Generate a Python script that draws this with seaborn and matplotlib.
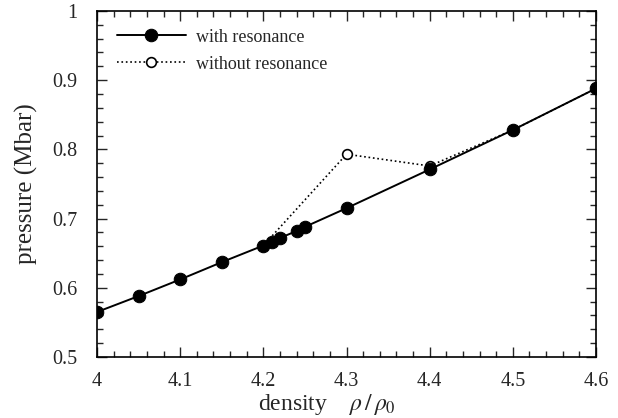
import pandas as pd
import matplotlib.pyplot as plt
import seaborn as sns
from matplotlib.ticker import MultipleLocator, FuncFormatter

sns.set_style("ticks")
plt.rcParams['font.family'] = ['Liberation Serif', 'DejaVu Serif']
plt.rcParams['mathtext.fontset'] = 'stix'

# data
dens_res = [4.0, 4.05, 4.1, 4.15, 4.2, 4.21, 4.22, 4.24, 4.25, 4.3, 4.4, 4.5, 4.6]
pres_res = [0.565, 0.588, 0.612, 0.637, 0.661, 0.666, 0.672, 0.682, 0.688, 0.715, 0.771, 0.828, 0.888]

dens_nores = [4.2, 4.3, 4.4, 4.5, 4.6]
pres_nores = [0.661, 0.793, 0.776, 0.828, 0.888]

df_res = pd.DataFrame({'density': dens_res, 'pressure': pres_res})
df_nores = pd.DataFrame({'density': dens_nores, 'pressure': pres_nores})

fig = plt.figure(figsize=(6.18, 4.18), dpi=100)
ax = fig.add_axes([0.157, 0.146, 0.8074, 0.8278])

sns.lineplot(data=df_nores, x='density', y='pressure', ax=ax, color='black',
             linestyle=':', linewidth=1.2, marker='o', markersize=7,
             markerfacecolor='white', markeredgecolor='black', markeredgewidth=1.2,
             label='without resonance', zorder=2)
sns.lineplot(data=df_res, x='density', y='pressure', ax=ax, color='black',
             linewidth=1.4, marker='o', markersize=9, markeredgecolor='black',
             label='with resonance', zorder=3)

ax.set_xlim(4, 4.6)
ax.set_ylim(0.5, 1)
ax.xaxis.set_major_locator(MultipleLocator(0.1))
ax.xaxis.set_minor_locator(MultipleLocator(0.02))
ax.yaxis.set_major_locator(MultipleLocator(0.1))
ax.yaxis.set_minor_locator(MultipleLocator(0.02))
ax.xaxis.set_major_formatter(FuncFormatter(lambda v, p: f'{v:g}'))
ax.yaxis.set_major_formatter(FuncFormatter(lambda v, p: f'{v:g}'))
ax.tick_params(which='both', direction='in', top=True, right=True, labelsize=14.5, width=1)
ax.tick_params(which='major', length=7)
ax.tick_params(which='minor', length=4)
ax.tick_params(axis='x', which='major', pad=11)
ax.tick_params(axis='y', which='major', pad=14)
for s in ax.spines.values():
    s.set_linewidth(1.2)
    s.set_color('black')

ax.set_xlabel(r'density    $\rho\,/\,\rho_0$', fontsize=17)
ax.xaxis.set_label_coords(0.461, -0.1)
ax.set_ylabel('pressure (Mbar)', fontsize=18)
ax.yaxis.set_label_coords(-0.118, 0.5)

handles, labels = ax.get_legend_handles_labels()
order = [labels.index('with resonance'), labels.index('without resonance')]
ax.legend([handles[i] for i in order], [labels[i] for i in order], loc='upper left',
          bbox_to_anchor=(0.040, 0.949), borderaxespad=0, borderpad=0,
          frameon=False, fontsize=13, handlelength=3.8, handletextpad=0.55,
          labelspacing=0.55)

fig.savefig('out.png', dpi=100)
